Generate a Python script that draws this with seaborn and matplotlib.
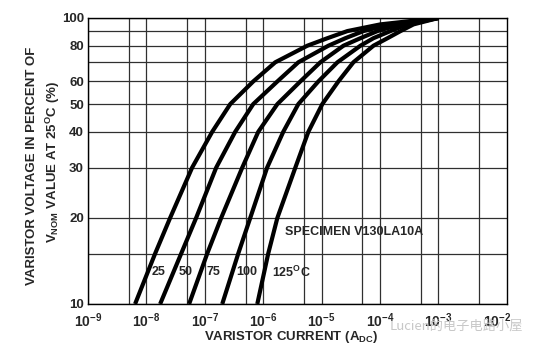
import numpy as np
import pandas as pd
import seaborn as sns
import matplotlib
matplotlib.use("Agg")
import matplotlib.pyplot as plt
from matplotlib.ticker import FixedLocator, NullFormatter

# ---- data ----
voltage_pct = [10, 15, 20, 30, 40, 50, 60, 70, 80, 85, 90, 95, 100]
current_25 = [6.4e-9, 1.41e-8, 2.55e-8, 6.08e-8, 1.34e-7, 2.73e-7, 6.76e-7, 1.61e-6,
              5.70e-6, 1.26e-5, 2.77e-5, 1.02e-4, 1e-3]
current_50 = [1.72e-8, 3.94e-8, 7.11e-8, 1.57e-7, 3.32e-7, 6.76e-7, 1.75e-6, 4.00e-6,
              1.31e-5, 2.56e-5, 5.21e-5, 1.51e-4, 1e-3]
current_75 = [5.39e-8, 1.10e-7, 1.91e-7, 4.39e-7, 8.24e-7, 1.75e-6, 4.33e-6, 9.53e-6,
              2.37e-5, 4.63e-5, 9.05e-5, 2.25e-4, 1e-3]
current_100 = [1.99e-7, 3.74e-7, 6.01e-7, 1.17e-6, 2.21e-6, 4.00e-6, 8.81e-6, 1.87e-5,
               4.63e-5, 7.74e-5, 1.51e-4, 2.96e-4, 1e-3]
current_125 = [7.93e-7, 1.22e-6, 1.75e-6, 3.56e-6, 5.94e-6, 1.03e-5, 1.94e-5, 3.51e-5,
               7.74e-5, 1.35e-4, 2.25e-4, 3.76e-4, 1e-3]
temps = ["25", "50", "75", "100", "125"]
x_ticks = [1e-9, 1e-8, 1e-7, 1e-6, 1e-5, 1e-4, 1e-3, 1e-2]
x_tick_labels = ["$10^{-9}$", "$10^{-8}$", "$10^{-7}$", "$10^{-6}$", "$10^{-5}$",
                 "$10^{-4}$", "$10^{-3}$", "$10^{-2}$"]
x_minor = [5e-9, 5e-8, 5e-7, 5e-6, 5e-5, 5e-4, 5e-3]
y_ticks = [10, 20, 30, 40, 50, 60, 80, 100]
y_minor = [15, 70, 90]

rows = []
for t, cur in zip(temps, [current_25, current_50, current_75, current_100, current_125]):
    for i, v in zip(cur, voltage_pct):
        rows.append({"temp": t, "current": i, "voltage": v})
df = pd.DataFrame(rows)

sns.set_style("white")
plt.rcParams["font.family"] = ["Liberation Sans", "DejaVu Sans"]
plt.rcParams["font.weight"] = "bold"
plt.rcParams["mathtext.fontset"] = "custom"
plt.rcParams["mathtext.rm"] = "Liberation Sans:bold"
plt.rcParams["mathtext.it"] = "Liberation Sans:bold"
plt.rcParams["mathtext.bf"] = "Liberation Sans:bold"
plt.rcParams["mathtext.default"] = "rm"

fig = plt.figure(figsize=(5.38, 3.51), dpi=100)
ax = fig.add_axes([88/538, 1-304/351, (507-88)/538, (304-18)/351])

sns.lineplot(data=df, x="current", y="voltage", hue="temp", units="temp",
             estimator=None, sort=False, palette=["black"]*5, linewidth=3.0,
             legend=False, ax=ax, solid_capstyle="butt", solid_joinstyle="round")

ax.set_xscale("log")
ax.set_yscale("log")
ax.set_xlim(1e-9, 1.5e-2)
ax.set_ylim(10, 100)

ax.xaxis.set_major_locator(FixedLocator(x_ticks))
ax.set_xticklabels(x_tick_labels, fontsize=10, fontweight="bold")
ax.xaxis.set_minor_locator(FixedLocator(x_minor))
ax.xaxis.set_minor_formatter(NullFormatter())
ax.yaxis.set_major_locator(FixedLocator(y_ticks))
ax.set_yticklabels([str(v) for v in y_ticks], fontsize=9.5, fontweight="bold")
ax.yaxis.set_minor_locator(FixedLocator(y_minor))
ax.yaxis.set_minor_formatter(NullFormatter())
ax.tick_params(axis="y", which="both", length=0, pad=3)
ax.tick_params(axis="x", which="both", length=0, pad=5)

ax.grid(True, which="both", color="#303030", linewidth=0.9)
for gl, xv in zip(ax.get_xgridlines(), x_ticks):
    if xv == 1e-2:
        gl.set_visible(False)
for s in ax.spines.values():
    s.set_color("black")
    s.set_linewidth(1.0)

ax.set_xlabel("")
ax.set_ylabel("")

# axis titles
fig.text(291/538, 1-337/351, "VARISTOR CURRENT (A$_{\\mathregular{DC}}$)", ha="center", va="center",
         fontsize=9.5, fontweight="bold")
fig.text(32/538, 1-166/351, "VARISTOR VOLTAGE IN PERCENT OF", rotation=90, ha="center",
         va="center", fontsize=9.5, fontweight="bold")
fig.text(53/538, 1-162/351, "V$_{\\mathregular{NOM}}$ VALUE AT 25$^{\\mathregular{O}}$C (%)",
         rotation=90, ha="center", va="center", fontsize=9.5, fontweight="bold")

# annotations
fig.text(285/538, 1-232/351, "SPECIMEN V130LA10A", ha="left",
         va="center", fontsize=9, fontweight="bold")
label_x = [159, 186, 213, 247]
for lx, t in zip(label_x, temps[:4]):
    fig.text(lx/538, 1-272/351, t, ha="center", va="center", fontsize=9, fontweight="bold")
fig.text(272/538, 1-272/351, "125$^{\\mathregular{O}}$C", ha="left", va="center",
         fontsize=9, fontweight="bold")

# watermark
fig.text(390/538, 1-326/351, "Lucien的电子电路小屋", ha="left", va="center", fontsize=9.5,
         color="#c8c8c8", fontweight="normal", family=["Noto Sans CJK SC", "DejaVu Sans"])

fig.savefig("out.png", dpi=100)
